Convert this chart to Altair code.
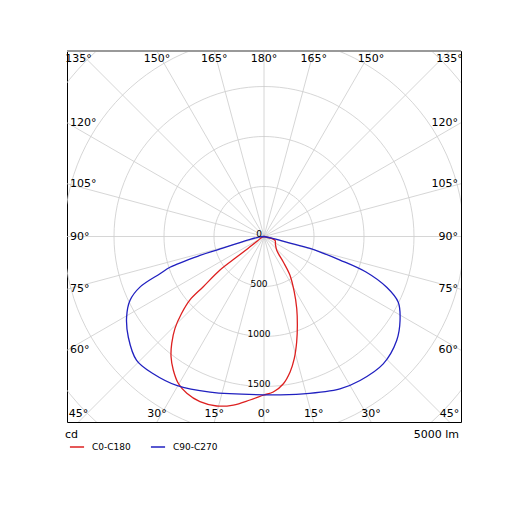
import numpy as np
import pandas as pd
import altair as alt

# luminous intensity (cd), gamma in degrees (0 = down, + = right)
red_gamma = [-90, -70, -56, -53.5, -53, -52.7, -50.4, -49.4, -47, -44.1, -40.8, -37.7, -34.2,
             -30.3, -26.2, -21.2, -15.6, -10.3, -4.9, 0, 3.4, 7.5, 10.9, 13.9, 17.2, 20.6, 24.4,
             28.6, 33.8, 37.1, 42.6, 55, 71, 90]
red_cd = [0, 20, 80, 200, 350, 553, 788, 975, 1126, 1279, 1412, 1520, 1614,
          1700, 1748, 1772, 1760, 1713, 1641, 1585, 1558, 1485, 1380, 1259, 1105, 948, 793,
          632, 467, 320, 188, 140, 116, 0]

blue_gamma = [-90, -85, -78, -74, -73.5, -71.9, -70.3, -67.8, -64.5, -59.6, -53.4, -45.8, -38.9,
              -30.4, -19.1, 0, 14, 26.5, 33.7, 43.1, 51.9, 58.3, 63.9, 67.5, 70.8, 72.8,
              75.6, 76, 78, 90]
blue_cd = [0, 40, 150, 493, 668, 989, 1105, 1340, 1485, 1593, 1690, 1777, 1764,
           1727, 1648, 1583, 1621, 1702, 1731, 1745, 1686, 1599, 1495, 1328, 1080, 796,
           475, 250, 80, 0]

curve_names = ['C0-C180', 'C90-C270']
curve_colors = ['#dd2020', '#2020c0']

ring_cd = [500, 1000, 1500, 2000, 2500]
ring_label_cd = [0, 500, 1000, 1500]
spoke_deg = list(range(0, 360, 15))

edge_deg = [-45, -30, -15, 0, 15, 30, 45]
bottom_txt = ['45°', '30°', '15°', '0°', '15°', '30°', '45°']
top_txt = ['135°', '150°', '165°', '180°', '165°', '150°', '135°']
side_deg = [60, 75, 90, 105, 120]
side_txt = ['60°', '75°', '90°', '105°', '120°']

XM = 1970   # half width of the frame, in cd
YM = 1855   # half height of the frame, in cd
FONT = 'DejaVu Sans'


def polar(gamma, cd, name):
    g = np.radians(gamma)
    cd = np.array(cd, dtype=float)
    return pd.DataFrame({'x': cd * np.sin(g), 'y': -cd * np.cos(g),
                         'curve': name, 'i': range(len(cd))})


curves = pd.concat([polar(red_gamma, red_cd, curve_names[0]),
                    polar(blue_gamma, blue_cd, curve_names[1])])

circ = np.radians(np.arange(0, 361, 3))
rings = pd.concat([pd.DataFrame({'x': r * np.sin(circ), 'y': r * np.cos(circ),
                                 'ring': r, 'i': range(len(circ))}) for r in ring_cd])

sp = np.radians(spoke_deg)
spokes = pd.DataFrame({'x': 0.0, 'y': 0.0, 'x2': 3000 * np.sin(sp), 'y2': 3000 * np.cos(sp)})

ed = np.radians(edge_deg)
bottom = pd.DataFrame({'x': YM * np.tan(ed), 'y': -YM, 't': bottom_txt})
top = pd.DataFrame({'x': YM * np.tan(ed), 'y': YM, 't': top_txt})
sd = np.radians(side_deg)
left = pd.DataFrame({'x': -XM, 'y': -XM / np.tan(sd), 't': side_txt})
right = pd.DataFrame({'x': XM, 'y': -XM / np.tan(sd), 't': side_txt})
ring_lab = pd.DataFrame({'x': -50, 'y': [-r for r in ring_label_cd], 't': [str(r) for r in ring_label_cd]})

X = alt.X('x:Q', scale=alt.Scale(domain=[-XM, XM], nice=False, zero=False), axis=None)
Y = alt.Y('y:Q', scale=alt.Scale(domain=[-YM, YM], nice=False, zero=False), axis=None)

grid_rings = alt.Chart(rings).mark_line(color='#cccccc', strokeWidth=0.8, clip=True).encode(
    x=X, y=Y, detail='ring:N', order='i:Q')

grid_spokes = alt.Chart(spokes).mark_rule(color='#cccccc', strokeWidth=0.8, clip=True).encode(
    x=X, y=Y, x2='x2:Q', y2='y2:Q')

lines = alt.Chart(curves).mark_line(strokeWidth=1.3, clip=True, interpolate='catmull-rom').encode(
    x=X, y=Y, order='i:Q',
    color=alt.Color('curve:N', scale=alt.Scale(domain=curve_names, range=curve_colors),
                    legend=alt.Legend(orient='none', legendX=2, legendY=388, direction='horizontal',
                                      title=None, symbolType='stroke', symbolSize=200,
                                      symbolStrokeWidth=1.5, labelFontSize=9, labelFont=FONT,
                                      labelOffset=7, columnPadding=16, labelColor='black'))
)

def labels(df, **kw):
    return alt.Chart(df).mark_text(font=FONT, fontSize=11, color='black', **kw).encode(
        x=X, y=Y, text='t:N')

lab_bottom = labels(bottom, baseline='bottom', dy=-3)
lab_top = labels(top, baseline='top', dy=2)
lab_left = labels(left, align='left', baseline='middle', dx=3)
lab_right = labels(right, align='right', baseline='middle', dx=-3)
lab_rings = alt.Chart(ring_lab).mark_text(font=FONT, fontSize=9, color='black', baseline='bottom', dy=2).encode(
    x=X, y=Y, text='t:N')

top_edge = alt.Chart().mark_rule(color='#999999', strokeWidth=2).encode(
    x=alt.datum(-XM), x2=alt.datum(XM), y=alt.datum(YM))

unit_cd = alt.Chart().mark_text(text='cd', font=FONT, fontSize=11, align='left', baseline='top', dy=7, dx=-2).encode(
    x=alt.datum(-XM), y=alt.datum(-YM))
unit_lm = alt.Chart().mark_text(text='5000 lm', font=FONT, fontSize=11, align='right', baseline='top', dy=7, dx=-2).encode(
    x=alt.datum(XM), y=alt.datum(-YM))

chart = alt.layer(
    grid_rings, grid_spokes, lines, lab_rings, lab_bottom, lab_top, lab_left, lab_right,
    top_edge, unit_cd, unit_lm
).properties(
    width=394, height=371,
    autosize=alt.AutoSizeParams(type='none'),
    padding={'left': 59, 'top': 43, 'right': 46, 'bottom': 85},
    background='white'
).configure_view(stroke='black', strokeWidth=1)

chart.save("out.html", embed_options={"renderer": "svg", "actions": False})
